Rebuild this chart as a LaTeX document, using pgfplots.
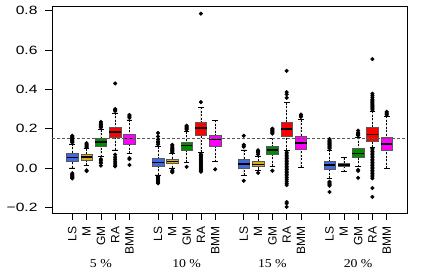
\documentclass[border=0pt]{standalone}
\usepackage{fontspec}
\setmainfont{Liberation Sans}
\newfontfamily\timesfont{Liberation Serif}
\usepackage{graphicx}
\usepackage{pgfplots}
\pgfplotsset{compat=1.18}
\usepgfplotslibrary{statistics}
\definecolor{lsc}{RGB}{65,105,225}
\definecolor{mc}{RGB}{218,175,25}
\definecolor{gmc}{RGB}{0,139,0}
\definecolor{rac}{RGB}{255,0,0}
\definecolor{bmmc}{RGB}{255,0,255}
\pgfplotsset{
  boxplot/draw/lower whisker/.code={%
    \draw[black, dash pattern=on 2pt off 1.5pt]
      (boxplot box cs:\pgfplotsboxplotvalue{lower whisker},0.5) --
      (boxplot box cs:\pgfplotsboxplotvalue{lower quartile},0.5);
    \draw[black, solid]
      (boxplot whisker cs:\pgfplotsboxplotvalue{lower whisker},0) --
      (boxplot whisker cs:\pgfplotsboxplotvalue{lower whisker},1);
  },
  boxplot/draw/upper whisker/.code={%
    \draw[black, dash pattern=on 2pt off 1.5pt]
      (boxplot box cs:\pgfplotsboxplotvalue{upper whisker},0.5) --
      (boxplot box cs:\pgfplotsboxplotvalue{upper quartile},0.5);
    \draw[black, solid]
      (boxplot whisker cs:\pgfplotsboxplotvalue{upper whisker},0) --
      (boxplot whisker cs:\pgfplotsboxplotvalue{upper whisker},1);
  },
  boxplot/every median/.style={black, line width=1.4pt},
  bx/.style={draw=black!65, line width=0.5pt, mark=*, mark size=1.8pt,
     mark options={draw=black, fill=black, solid}},
}
\newcommand{\bp}[7]{% color, pos, lw, lq, med, uq, uw
  \addplot[bx, fill=#1, boxplot/draw direction=y, boxplot prepared={draw position=#2, box extend=0.8, whisker extend=0.4,
     lower whisker=#3, lower quartile=#4, median=#5, upper quartile=#6, upper whisker=#7}]}
\newcommand{\yl}[1]{\scalebox{1.3}[1]{#1}}
\begin{document}
\begin{tikzpicture}
\begin{axis}[
  width=355pt, height=207pt, scale only axis,
  xmin=-0.42, xmax=24.42, ymin=-0.229, ymax=0.824,
  axis line style={black, line width=0.6pt},
  tick align=outside, major tick length=7pt,
  tick style={black, line width=0.6pt},
  xtick={1,2,3,4,5,7,8,9,10,11,13,14,15,16,17,19,20,21,22,23},
  xticklabels={LS,M,GM,RA,BMM,LS,M,GM,RA,BMM,LS,M,GM,RA,BMM,LS,M,GM,RA,BMM},
  xticklabel style={rotate=90, anchor=east, font=\fontsize{12}{14}\selectfont},
  xticklabel shift=3pt,
  ytick={-0.2,0,0.2,0.4,0.6,0.8},
  yticklabels={\yl{−0.2},\yl{0.0},\yl{0.2},\yl{0.4},\yl{0.6},\yl{0.8}},
  yticklabel style={font=\fontsize{12}{14}\selectfont},
  yticklabel shift=4pt,
  xtick pos=bottom, ytick pos=left,
]
\bp{lsc}{1}{0.0}{0.032}{0.054}{0.075}{0.122} table[row sep=\\, y index=0] {0.13\\0.135\\0.14\\0.145\\0.15\\0.155\\0.16\\0.164\\-0.027\\-0.033\\-0.038\\-0.043\\-0.048\\-0.053\\};
\bp{mc}{2}{0.015}{0.041}{0.056}{0.072}{0.098} table[row sep=\\, y index=0] {0.105\\0.11\\0.115\\0.12\\0.126\\-0.012\\-0.016\\};
\bp{gmc}{3}{0.058}{0.109}{0.132}{0.149}{0.195} table[row sep=\\, y index=0] {0.205\\0.21\\0.215\\0.22\\0.228\\0.235\\0.045\\0.04\\0.03\\0.025\\0.012\\};
\bp{rac}{4}{0.092}{0.157}{0.183}{0.207}{0.28} table[row sep=\\, y index=0] {0.29\\0.293\\0.297\\0.30\\0.43\\0.068\\0.055\\0.045\\0.035\\0.025\\0.015\\0.008\\};
\bp{bmmc}{5}{0.075}{0.123}{0.149}{0.174}{0.245} table[row sep=\\, y index=0] {0.255\\0.26\\0.265\\0.27\\0.05\\0.045\\0.015\\};
%
\bp{lsc}{7}{-0.035}{0.01}{0.029}{0.05}{0.109} table[row sep=\\, y index=0] {0.12\\0.128\\0.135\\0.145\\0.16\\0.178\\-0.045\\-0.05\\-0.055\\-0.06\\-0.065\\-0.07\\-0.075\\-0.078\\};
\bp{mc}{8}{0.0}{0.024}{0.032}{0.045}{0.075} table[row sep=\\, y index=0] {0.08\\0.085\\0.09\\0.095\\0.1\\0.105\\0.112\\0.118\\-0.012\\-0.018\\-0.022\\};
\bp{gmc}{9}{0.03}{0.089}{0.113}{0.13}{0.185} table[row sep=\\, y index=0] {0.195\\0.2\\0.205\\0.21\\0.215\\0.006\\};
\bp{rac}{10}{0.08}{0.168}{0.203}{0.232}{0.31} table[row sep=\\, y index=0] {0.335\\0.785\\0.07\\0.065\\0.06\\0.055\\0.05\\0.045\\0.04\\0.035\\0.03\\0.025\\0.02\\0.015\\0.01\\0.005\\0.0\\-0.005\\-0.01\\-0.015\\-0.019\\};
\bp{bmmc}{11}{0.032}{0.109}{0.144}{0.169}{0.243} table[row sep=\\, y index=0] {-0.007\\};
%
\bp{lsc}{13}{-0.036}{-0.002}{0.02}{0.045}{0.092} table[row sep=\\, y index=0] {0.108\\0.112\\0.118\\0.164\\-0.065\\};
\bp{mc}{14}{-0.012}{0.007}{0.019}{0.032}{0.062} table[row sep=\\, y index=0] {0.07\\0.078\\0.085\\0.09\\-0.025\\};
\bp{gmc}{15}{0.01}{0.07}{0.092}{0.113}{0.15} table[row sep=\\, y index=0] {0.175\\0.18\\0.185\\0.19\\0.195\\0.2\\-0.014\\};
\bp{rac}{16}{0.089}{0.161}{0.198}{0.232}{0.332} table[row sep=\\, y index=0] {0.357\\0.375\\0.386\\0.494\\0.08\\0.072\\0.064\\0.056\\0.048\\0.04\\0.032\\0.024\\0.016\\0.008\\0.0\\-0.008\\-0.016\\-0.024\\-0.032\\-0.04\\-0.05\\-0.06\\-0.07\\-0.08\\-0.087\\-0.173\\-0.18\\-0.198\\};
\bp{bmmc}{17}{0.004}{0.096}{0.127}{0.161}{0.246} table[row sep=\\, y index=0] {0.26\\0.265\\0.272\\};
%
\bp{lsc}{19}{-0.053}{-0.005}{0.015}{0.036}{0.092} table[row sep=\\, y index=0] {0.1\\0.105\\0.11\\0.115\\0.12\\0.125\\0.13\\0.135\\0.14\\0.147\\-0.07\\-0.075\\-0.08\\-0.085\\-0.09\\-0.122\\};
\bp{mc}{20}{-0.019}{0.007}{0.015}{0.024}{0.053} coordinates {};
\bp{gmc}{21}{0.007}{0.055}{0.075}{0.101}{0.157} table[row sep=\\, y index=0] {0.165\\0.17\\0.175\\0.18\\0.19\\-0.01\\-0.015\\-0.05\\};
\bp{rac}{22}{0.106}{0.138}{0.169}{0.207}{0.289} table[row sep=\\, y index=0] {0.295\\0.3\\0.305\\0.31\\0.315\\0.32\\0.325\\0.33\\0.335\\0.34\\0.345\\0.35\\0.36\\0.37\\0.378\\0.554\\0.1\\0.092\\0.084\\0.076\\0.068\\0.06\\0.052\\0.044\\0.036\\0.028\\0.02\\0.012\\0.004\\-0.004\\-0.012\\-0.02\\-0.028\\-0.036\\-0.045\\-0.053\\-0.102\\-0.147\\};
\bp{bmmc}{23}{-0.002}{0.092}{0.121}{0.157}{0.263} table[row sep=\\, y index=0] {0.27\\0.275\\0.28\\0.286\\};
%
\addplot[black!65, line width=0.5pt, dash pattern=on 3pt off 2pt, mark=none] coordinates {(-0.42,0.15) (24.42,0.15)};
%
\coordinate (bl) at (rel axis cs:0,0);
\coordinate (tr) at (rel axis cs:1,1);
\coordinate (g1) at (axis cs:3,-0.229);
\coordinate (g2) at (axis cs:9,-0.229);
\coordinate (g3) at (axis cs:15,-0.229);
\coordinate (g4) at (axis cs:21,-0.229);
\end{axis}
\begin{scope}[every node/.style={font=\timesfont\fontsize{12}{14}\selectfont}]
\node at ([yshift=-51pt]g1) {\scalebox{1.15}[1]{5 \%}};
\node at ([yshift=-51pt]g2) {\scalebox{1.15}[1]{10 \%}};
\node at ([yshift=-51pt]g3) {\scalebox{1.15}[1]{15 \%}};
\node at ([yshift=-51pt]g4) {\scalebox{1.15}[1]{20 \%}};
\end{scope}
\pgfresetboundingbox
\path ([shift={(-52pt,-60pt)}]bl) rectangle ([shift={(15pt,6pt)}]tr);
\end{tikzpicture}
\end{document}
